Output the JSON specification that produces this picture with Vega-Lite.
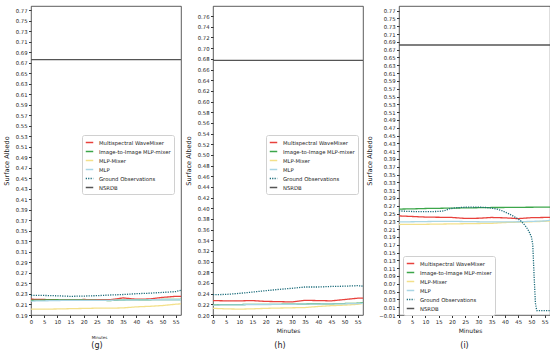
{
"$schema": "https://vega.github.io/schema/vega-lite/v6.json",
"padding": {"left": 2, "top": 5, "right": 0, "bottom": 0},
"spacing": 2,
"config": {
  "font": "DejaVu Sans",
  "view": {"stroke": "#333", "strokeWidth": 0.8},
  "axis": {"grid": false, "domain": false, "labelFontSize": 5.3, "labelColor": "#222", "tickColor": "#333", "tickSize": 2.5, "labelPadding": 1.5, "titleFontWeight": "normal", "titleColor": "#222", "labelOverlap": false, "labelFlush": false},
  "legend": {"symbolType": "stroke", "symbolSize": 56, "symbolStrokeWidth": 1.5, "labelFontSize": 5.3, "labelColor": "#222", "rowPadding": 1, "padding": 3, "strokeColor": "#d0d0d0", "fillColor": "white", "cornerRadius": 2, "labelOffset": 5, "labelLimit": 200},
  "title": {"fontWeight": "normal", "color": "#222"}
},
"datasets": {"d": [
{"panel":"g","series":"Multispectral WaveMixer","minute":0,"value":0.220},
{"panel":"g","series":"Multispectral WaveMixer","minute":5,"value":0.2195},
{"panel":"g","series":"Multispectral WaveMixer","minute":10,"value":0.219},
{"panel":"g","series":"Multispectral WaveMixer","minute":15,"value":0.219},
{"panel":"g","series":"Multispectral WaveMixer","minute":20,"value":0.2195},
{"panel":"g","series":"Multispectral WaveMixer","minute":25,"value":0.219},
{"panel":"g","series":"Multispectral WaveMixer","minute":30,"value":0.219},
{"panel":"g","series":"Multispectral WaveMixer","minute":35,"value":0.2225},
{"panel":"g","series":"Multispectral WaveMixer","minute":40,"value":0.220},
{"panel":"g","series":"Multispectral WaveMixer","minute":45,"value":0.2205},
{"panel":"g","series":"Multispectral WaveMixer","minute":50,"value":0.2235},
{"panel":"g","series":"Multispectral WaveMixer","minute":55,"value":0.2255},
{"panel":"g","series":"Multispectral WaveMixer","minute":57,"value":0.2255},
{"panel":"g","series":"Image-to-Image MLP-mixer","minute":0,"value":0.218},
{"panel":"g","series":"Image-to-Image MLP-mixer","minute":5,"value":0.2185},
{"panel":"g","series":"Image-to-Image MLP-mixer","minute":10,"value":0.219},
{"panel":"g","series":"Image-to-Image MLP-mixer","minute":15,"value":0.2185},
{"panel":"g","series":"Image-to-Image MLP-mixer","minute":20,"value":0.2185},
{"panel":"g","series":"Image-to-Image MLP-mixer","minute":25,"value":0.218},
{"panel":"g","series":"Image-to-Image MLP-mixer","minute":30,"value":0.2175},
{"panel":"g","series":"Image-to-Image MLP-mixer","minute":35,"value":0.2185},
{"panel":"g","series":"Image-to-Image MLP-mixer","minute":40,"value":0.219},
{"panel":"g","series":"Image-to-Image MLP-mixer","minute":45,"value":0.219},
{"panel":"g","series":"Image-to-Image MLP-mixer","minute":50,"value":0.2195},
{"panel":"g","series":"Image-to-Image MLP-mixer","minute":55,"value":0.2195},
{"panel":"g","series":"Image-to-Image MLP-mixer","minute":57,"value":0.2195},
{"panel":"g","series":"MLP-Mixer","minute":0,"value":0.2013},
{"panel":"g","series":"MLP-Mixer","minute":5,"value":0.201},
{"panel":"g","series":"MLP-Mixer","minute":10,"value":0.2015},
{"panel":"g","series":"MLP-Mixer","minute":15,"value":0.202},
{"panel":"g","series":"MLP-Mixer","minute":20,"value":0.2025},
{"panel":"g","series":"MLP-Mixer","minute":25,"value":0.203},
{"panel":"g","series":"MLP-Mixer","minute":30,"value":0.203},
{"panel":"g","series":"MLP-Mixer","minute":35,"value":0.2035},
{"panel":"g","series":"MLP-Mixer","minute":40,"value":0.2055},
{"panel":"g","series":"MLP-Mixer","minute":45,"value":0.2065},
{"panel":"g","series":"MLP-Mixer","minute":50,"value":0.208},
{"panel":"g","series":"MLP-Mixer","minute":55,"value":0.2105},
{"panel":"g","series":"MLP-Mixer","minute":57,"value":0.2113},
{"panel":"g","series":"MLP","minute":0,"value":0.2165},
{"panel":"g","series":"MLP","minute":5,"value":0.217},
{"panel":"g","series":"MLP","minute":10,"value":0.2175},
{"panel":"g","series":"MLP","minute":15,"value":0.218},
{"panel":"g","series":"MLP","minute":20,"value":0.218},
{"panel":"g","series":"MLP","minute":25,"value":0.218},
{"panel":"g","series":"MLP","minute":30,"value":0.218},
{"panel":"g","series":"MLP","minute":35,"value":0.2185},
{"panel":"g","series":"MLP","minute":40,"value":0.2185},
{"panel":"g","series":"MLP","minute":45,"value":0.219},
{"panel":"g","series":"MLP","minute":50,"value":0.219},
{"panel":"g","series":"MLP","minute":55,"value":0.219},
{"panel":"g","series":"MLP","minute":57,"value":0.219},
{"panel":"g","series":"Ground Observations","minute":0,"value":0.2275},
{"panel":"g","series":"Ground Observations","minute":5,"value":0.2272},
{"panel":"g","series":"Ground Observations","minute":10,"value":0.2265},
{"panel":"g","series":"Ground Observations","minute":15,"value":0.2255},
{"panel":"g","series":"Ground Observations","minute":20,"value":0.226},
{"panel":"g","series":"Ground Observations","minute":25,"value":0.2268},
{"panel":"g","series":"Ground Observations","minute":30,"value":0.228},
{"panel":"g","series":"Ground Observations","minute":35,"value":0.229},
{"panel":"g","series":"Ground Observations","minute":40,"value":0.2305},
{"panel":"g","series":"Ground Observations","minute":45,"value":0.2315},
{"panel":"g","series":"Ground Observations","minute":50,"value":0.233},
{"panel":"g","series":"Ground Observations","minute":55,"value":0.2345},
{"panel":"g","series":"Ground Observations","minute":57,"value":0.237},
{"panel":"g","series":"NSRDB","minute":0,"value":0.676},
{"panel":"g","series":"NSRDB","minute":57,"value":0.676},
{"panel":"h","series":"Multispectral WaveMixer","minute":0,"value":0.227},
{"panel":"h","series":"Multispectral WaveMixer","minute":5,"value":0.2265},
{"panel":"h","series":"Multispectral WaveMixer","minute":10,"value":0.2265},
{"panel":"h","series":"Multispectral WaveMixer","minute":15,"value":0.227},
{"panel":"h","series":"Multispectral WaveMixer","minute":20,"value":0.2255},
{"panel":"h","series":"Multispectral WaveMixer","minute":25,"value":0.225},
{"panel":"h","series":"Multispectral WaveMixer","minute":30,"value":0.2245},
{"panel":"h","series":"Multispectral WaveMixer","minute":35,"value":0.2275},
{"panel":"h","series":"Multispectral WaveMixer","minute":40,"value":0.227},
{"panel":"h","series":"Multispectral WaveMixer","minute":45,"value":0.2265},
{"panel":"h","series":"Multispectral WaveMixer","minute":50,"value":0.229},
{"panel":"h","series":"Multispectral WaveMixer","minute":55,"value":0.2315},
{"panel":"h","series":"Multispectral WaveMixer","minute":57,"value":0.2315},
{"panel":"h","series":"Image-to-Image MLP-mixer","minute":0,"value":0.219},
{"panel":"h","series":"Image-to-Image MLP-mixer","minute":5,"value":0.2195},
{"panel":"h","series":"Image-to-Image MLP-mixer","minute":10,"value":0.2195},
{"panel":"h","series":"Image-to-Image MLP-mixer","minute":15,"value":0.22},
{"panel":"h","series":"Image-to-Image MLP-mixer","minute":20,"value":0.22},
{"panel":"h","series":"Image-to-Image MLP-mixer","minute":25,"value":0.22},
{"panel":"h","series":"Image-to-Image MLP-mixer","minute":30,"value":0.2205},
{"panel":"h","series":"Image-to-Image MLP-mixer","minute":35,"value":0.2205},
{"panel":"h","series":"Image-to-Image MLP-mixer","minute":40,"value":0.221},
{"panel":"h","series":"Image-to-Image MLP-mixer","minute":45,"value":0.221},
{"panel":"h","series":"Image-to-Image MLP-mixer","minute":50,"value":0.2215},
{"panel":"h","series":"Image-to-Image MLP-mixer","minute":55,"value":0.222},
{"panel":"h","series":"Image-to-Image MLP-mixer","minute":57,"value":0.223},
{"panel":"h","series":"MLP-Mixer","minute":0,"value":0.2125},
{"panel":"h","series":"MLP-Mixer","minute":5,"value":0.2115},
{"panel":"h","series":"MLP-Mixer","minute":10,"value":0.211},
{"panel":"h","series":"MLP-Mixer","minute":15,"value":0.2115},
{"panel":"h","series":"MLP-Mixer","minute":20,"value":0.2125},
{"panel":"h","series":"MLP-Mixer","minute":25,"value":0.213},
{"panel":"h","series":"MLP-Mixer","minute":30,"value":0.2135},
{"panel":"h","series":"MLP-Mixer","minute":35,"value":0.214},
{"panel":"h","series":"MLP-Mixer","minute":40,"value":0.216},
{"panel":"h","series":"MLP-Mixer","minute":45,"value":0.2175},
{"panel":"h","series":"MLP-Mixer","minute":50,"value":0.2185},
{"panel":"h","series":"MLP-Mixer","minute":55,"value":0.220},
{"panel":"h","series":"MLP-Mixer","minute":57,"value":0.2215},
{"panel":"h","series":"MLP","minute":0,"value":0.2185},
{"panel":"h","series":"MLP","minute":5,"value":0.219},
{"panel":"h","series":"MLP","minute":10,"value":0.219},
{"panel":"h","series":"MLP","minute":15,"value":0.2195},
{"panel":"h","series":"MLP","minute":20,"value":0.2195},
{"panel":"h","series":"MLP","minute":25,"value":0.22},
{"panel":"h","series":"MLP","minute":30,"value":0.22},
{"panel":"h","series":"MLP","minute":35,"value":0.2205},
{"panel":"h","series":"MLP","minute":40,"value":0.2205},
{"panel":"h","series":"MLP","minute":45,"value":0.221},
{"panel":"h","series":"MLP","minute":50,"value":0.221},
{"panel":"h","series":"MLP","minute":55,"value":0.2215},
{"panel":"h","series":"MLP","minute":57,"value":0.222},
{"panel":"h","series":"Ground Observations","minute":0,"value":0.238},
{"panel":"h","series":"Ground Observations","minute":5,"value":0.2386},
{"panel":"h","series":"Ground Observations","minute":10,"value":0.2405},
{"panel":"h","series":"Ground Observations","minute":15,"value":0.243},
{"panel":"h","series":"Ground Observations","minute":20,"value":0.2455},
{"panel":"h","series":"Ground Observations","minute":25,"value":0.248},
{"panel":"h","series":"Ground Observations","minute":30,"value":0.25},
{"panel":"h","series":"Ground Observations","minute":35,"value":0.2525},
{"panel":"h","series":"Ground Observations","minute":40,"value":0.2525},
{"panel":"h","series":"Ground Observations","minute":45,"value":0.2535},
{"panel":"h","series":"Ground Observations","minute":50,"value":0.254},
{"panel":"h","series":"Ground Observations","minute":55,"value":0.255},
{"panel":"h","series":"Ground Observations","minute":57,"value":0.254},
{"panel":"h","series":"NSRDB","minute":0,"value":0.677},
{"panel":"h","series":"NSRDB","minute":57,"value":0.677},
{"panel":"i","series":"Multispectral WaveMixer","minute":0,"value":0.244},
{"panel":"i","series":"Multispectral WaveMixer","minute":5,"value":0.2425},
{"panel":"i","series":"Multispectral WaveMixer","minute":10,"value":0.241},
{"panel":"i","series":"Multispectral WaveMixer","minute":15,"value":0.2405},
{"panel":"i","series":"Multispectral WaveMixer","minute":20,"value":0.24},
{"panel":"i","series":"Multispectral WaveMixer","minute":25,"value":0.2375},
{"panel":"i","series":"Multispectral WaveMixer","minute":30,"value":0.238},
{"panel":"i","series":"Multispectral WaveMixer","minute":35,"value":0.24},
{"panel":"i","series":"Multispectral WaveMixer","minute":40,"value":0.239},
{"panel":"i","series":"Multispectral WaveMixer","minute":45,"value":0.237},
{"panel":"i","series":"Multispectral WaveMixer","minute":50,"value":0.2395},
{"panel":"i","series":"Multispectral WaveMixer","minute":55,"value":0.24},
{"panel":"i","series":"Multispectral WaveMixer","minute":57,"value":0.24},
{"panel":"i","series":"Image-to-Image MLP-mixer","minute":0,"value":0.2615},
{"panel":"i","series":"Image-to-Image MLP-mixer","minute":5,"value":0.262},
{"panel":"i","series":"Image-to-Image MLP-mixer","minute":10,"value":0.263},
{"panel":"i","series":"Image-to-Image MLP-mixer","minute":15,"value":0.2635},
{"panel":"i","series":"Image-to-Image MLP-mixer","minute":20,"value":0.264},
{"panel":"i","series":"Image-to-Image MLP-mixer","minute":25,"value":0.2645},
{"panel":"i","series":"Image-to-Image MLP-mixer","minute":30,"value":0.265},
{"panel":"i","series":"Image-to-Image MLP-mixer","minute":35,"value":0.2655},
{"panel":"i","series":"Image-to-Image MLP-mixer","minute":40,"value":0.2656},
{"panel":"i","series":"Image-to-Image MLP-mixer","minute":45,"value":0.266},
{"panel":"i","series":"Image-to-Image MLP-mixer","minute":50,"value":0.2662},
{"panel":"i","series":"Image-to-Image MLP-mixer","minute":55,"value":0.2665},
{"panel":"i","series":"Image-to-Image MLP-mixer","minute":57,"value":0.2666},
{"panel":"i","series":"MLP-Mixer","minute":0,"value":0.222},
{"panel":"i","series":"MLP-Mixer","minute":5,"value":0.2222},
{"panel":"i","series":"MLP-Mixer","minute":10,"value":0.2225},
{"panel":"i","series":"MLP-Mixer","minute":15,"value":0.223},
{"panel":"i","series":"MLP-Mixer","minute":20,"value":0.2235},
{"panel":"i","series":"MLP-Mixer","minute":25,"value":0.224},
{"panel":"i","series":"MLP-Mixer","minute":30,"value":0.2245},
{"panel":"i","series":"MLP-Mixer","minute":35,"value":0.225},
{"panel":"i","series":"MLP-Mixer","minute":40,"value":0.227},
{"panel":"i","series":"MLP-Mixer","minute":45,"value":0.228},
{"panel":"i","series":"MLP-Mixer","minute":50,"value":0.229},
{"panel":"i","series":"MLP-Mixer","minute":55,"value":0.23},
{"panel":"i","series":"MLP-Mixer","minute":57,"value":0.231},
{"panel":"i","series":"MLP","minute":0,"value":0.2285},
{"panel":"i","series":"MLP","minute":5,"value":0.229},
{"panel":"i","series":"MLP","minute":10,"value":0.2295},
{"panel":"i","series":"MLP","minute":15,"value":0.23},
{"panel":"i","series":"MLP","minute":20,"value":0.23},
{"panel":"i","series":"MLP","minute":25,"value":0.2295},
{"panel":"i","series":"MLP","minute":30,"value":0.229},
{"panel":"i","series":"MLP","minute":35,"value":0.2285},
{"panel":"i","series":"MLP","minute":40,"value":0.2285},
{"panel":"i","series":"MLP","minute":45,"value":0.229},
{"panel":"i","series":"MLP","minute":50,"value":0.23},
{"panel":"i","series":"MLP","minute":55,"value":0.231},
{"panel":"i","series":"MLP","minute":57,"value":0.2327},
{"panel":"i","series":"Ground Observations","minute":0,"value":0.257},
{"panel":"i","series":"Ground Observations","minute":3,"value":0.2555},
{"panel":"i","series":"Ground Observations","minute":6,"value":0.2552},
{"panel":"i","series":"Ground Observations","minute":9,"value":0.2548},
{"panel":"i","series":"Ground Observations","minute":12,"value":0.255},
{"panel":"i","series":"Ground Observations","minute":15,"value":0.2555},
{"panel":"i","series":"Ground Observations","minute":17,"value":0.257},
{"panel":"i","series":"Ground Observations","minute":19,"value":0.262},
{"panel":"i","series":"Ground Observations","minute":21,"value":0.2645},
{"panel":"i","series":"Ground Observations","minute":24,"value":0.266},
{"panel":"i","series":"Ground Observations","minute":27,"value":0.2665},
{"panel":"i","series":"Ground Observations","minute":30,"value":0.2665},
{"panel":"i","series":"Ground Observations","minute":33,"value":0.2655},
{"panel":"i","series":"Ground Observations","minute":35,"value":0.264},
{"panel":"i","series":"Ground Observations","minute":37,"value":0.2615},
{"panel":"i","series":"Ground Observations","minute":39,"value":0.257},
{"panel":"i","series":"Ground Observations","minute":41,"value":0.251},
{"panel":"i","series":"Ground Observations","minute":43,"value":0.244},
{"panel":"i","series":"Ground Observations","minute":45,"value":0.236},
{"panel":"i","series":"Ground Observations","minute":46,"value":0.231},
{"panel":"i","series":"Ground Observations","minute":47,"value":0.224},
{"panel":"i","series":"Ground Observations","minute":48,"value":0.216},
{"panel":"i","series":"Ground Observations","minute":49,"value":0.205},
{"panel":"i","series":"Ground Observations","minute":50,"value":0.19},
{"panel":"i","series":"Ground Observations","minute":50.5,"value":0.17},
{"panel":"i","series":"Ground Observations","minute":51,"value":0.09},
{"panel":"i","series":"Ground Observations","minute":51.5,"value":0.02},
{"panel":"i","series":"Ground Observations","minute":52,"value":0.0013},
{"panel":"i","series":"Ground Observations","minute":57,"value":0.0013},
{"panel":"i","series":"NSRDB","minute":0,"value":0.682},
{"panel":"i","series":"NSRDB","minute":57,"value":0.682}
]},
"resolve": {"scale": {"color": "independent", "strokeDash": "independent"}, "legend": {"color": "independent", "strokeDash": "independent"}},
"hconcat": [
{
  "width": 150, "height": 309,
  "data": {"name": "d"},
  "transform": [{"filter": "datum.panel === 'g'"}],
  "title": {"text": "(g)", "orient": "bottom", "fontSize": 8, "dx": -9, "offset": 3},
  "mark": {"type": "line", "strokeWidth": 1.3, "clip": true},
  "encoding": {
    "x": {"field": "minute", "type": "quantitative", "scale": {"domain": [0, 57], "nice": false, "zero": false}, "axis": {"values": [0,5,10,15,20,25,30,35,40,45,50,55], "title": "Minutes", "titleFontSize": 4, "titlePadding": 11, "titleX": 68}},
    "y": {"field": "value", "type": "quantitative", "scale": {"domain": [0.19, 0.778], "nice": false, "zero": false}, "axis": {"values": [0.19,0.21,0.23,0.25,0.27,0.29,0.31,0.33,0.35,0.37,0.39,0.41,0.43,0.45,0.47,0.49,0.51,0.53,0.55,0.57,0.59,0.61,0.63,0.65,0.67,0.69,0.71,0.73,0.75,0.77], "format": ".2f", "title": "Surface Albedo", "titleFontSize": 6.5, "titlePadding": 6}},
    "color": {"field": "series", "type": "nominal", "scale": {"domain": ["Multispectral WaveMixer","Image-to-Image MLP-mixer","MLP-Mixer","MLP","Ground Observations","NSRDB"], "range": ["#e8413c","#3ca64a","#f3e08a","#a9d6e5","#1a6b7a","#555555"]}, "legend": {"orient": "none", "legendX": 51, "legendY": 129, "title": null}},
    "strokeDash": {"field": "series", "type": "nominal", "scale": {"domain": ["Multispectral WaveMixer","Image-to-Image MLP-mixer","MLP-Mixer","MLP","Ground Observations","NSRDB"], "range": [[1,0],[1,0],[1,0],[1,0],[1.2,1.2],[1,0]]}, "legend": {"orient": "none", "legendX": 51, "legendY": 129, "title": null}}
  }
},
{
  "width": 150, "height": 309,
  "data": {"name": "d"},
  "transform": [{"filter": "datum.panel === 'h'"}],
  "title": {"text": "(h)", "orient": "bottom", "fontSize": 8, "dx": -8, "offset": 9},
  "mark": {"type": "line", "strokeWidth": 1.3, "clip": true},
  "encoding": {
    "x": {"field": "minute", "type": "quantitative", "scale": {"domain": [0, 57], "nice": false, "zero": false}, "axis": {"values": [0,5,10,15,20,25,30,35,40,45,50,55], "title": "Minutes", "titleFontSize": 6, "titlePadding": 3}},
    "y": {"field": "value", "type": "quantitative", "scale": {"domain": [0.20, 0.779], "nice": false, "zero": false}, "axis": {"values": [0.20,0.22,0.24,0.26,0.28,0.30,0.32,0.34,0.36,0.38,0.40,0.42,0.44,0.46,0.48,0.50,0.52,0.54,0.56,0.58,0.60,0.62,0.64,0.66,0.68,0.70,0.72,0.74,0.76], "format": ".2f", "title": "Surface Albedo", "titleFontSize": 6.5, "titlePadding": 6}},
    "color": {"field": "series", "type": "nominal", "scale": {"domain": ["Multispectral WaveMixer","Image-to-Image MLP-mixer","MLP-Mixer","MLP","Ground Observations","NSRDB"], "range": ["#e8413c","#3ca64a","#f3e08a","#a9d6e5","#1a6b7a","#555555"]}, "legend": {"orient": "none", "legendX": 53, "legendY": 129, "title": null}},
    "strokeDash": {"field": "series", "type": "nominal", "scale": {"domain": ["Multispectral WaveMixer","Image-to-Image MLP-mixer","MLP-Mixer","MLP","Ground Observations","NSRDB"], "range": [[1,0],[1,0],[1,0],[1,0],[1.2,1.2],[1,0]]}, "legend": {"orient": "none", "legendX": 53, "legendY": 129, "title": null}}
  }
},
{
  "width": 151, "height": 309,
  "data": {"name": "d"},
  "transform": [{"filter": "datum.panel === 'i'"}],
  "title": {"text": "(i)", "orient": "bottom", "fontSize": 8, "dx": -10, "offset": 9},
  "mark": {"type": "line", "strokeWidth": 1.3, "clip": true},
  "encoding": {
    "x": {"field": "minute", "type": "quantitative", "scale": {"domain": [0, 57], "nice": false, "zero": false}, "axis": {"values": [0,5,10,15,20,25,30,35,40,45,50,55], "title": "Minutes", "titleFontSize": 6, "titlePadding": 3, "titleX": 71}},
    "y": {"field": "value", "type": "quantitative", "scale": {"domain": [-0.01, 0.782], "nice": false, "zero": false}, "axis": {"values": [-0.01,0.01,0.03,0.05,0.07,0.09,0.11,0.13,0.15,0.17,0.19,0.21,0.23,0.25,0.27,0.29,0.31,0.33,0.35,0.37,0.39,0.41,0.43,0.45,0.47,0.49,0.51,0.53,0.55,0.57,0.59,0.61,0.63,0.65,0.67,0.69,0.71,0.73,0.75,0.77], "format": ".2f", "title": "Surface Albedo", "titleFontSize": 6.5, "titlePadding": 6}},
    "color": {"field": "series", "type": "nominal", "scale": {"domain": ["Multispectral WaveMixer","Image-to-Image MLP-mixer","MLP-Mixer","MLP","Ground Observations","NSRDB"], "range": ["#e8413c","#3ca64a","#f3e08a","#a9d6e5","#1a6b7a","#555555"]}, "legend": {"orient": "none", "legendX": 4, "legendY": 250, "title": null}},
    "strokeDash": {"field": "series", "type": "nominal", "scale": {"domain": ["Multispectral WaveMixer","Image-to-Image MLP-mixer","MLP-Mixer","MLP","Ground Observations","NSRDB"], "range": [[1,0],[1,0],[1,0],[1,0],[1.2,1.2],[1,0]]}, "legend": {"orient": "none", "legendX": 4, "legendY": 250, "title": null}}
  }
}
]
}
